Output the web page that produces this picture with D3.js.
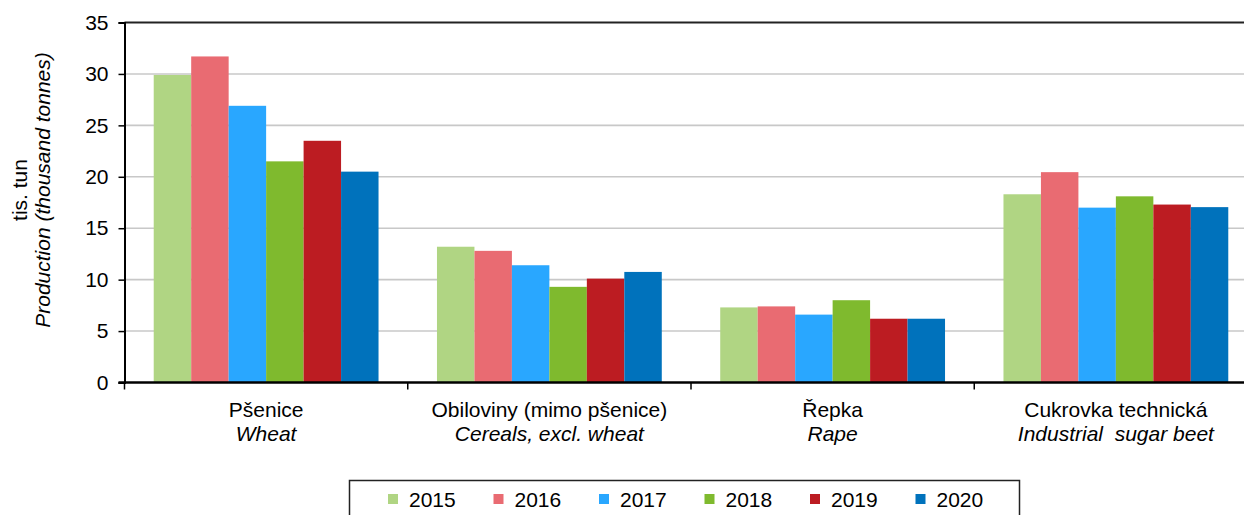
<!DOCTYPE html>
<html lang="cs">
<head>
<meta charset="UTF-8" />
<style>
  body { margin: 0; background: #fff; }
  svg text { font-family: "Liberation Sans", Arial, sans-serif; fill: #000; white-space: pre; }
</style>
</head>
<body>
<svg id="chart" width="1244" height="515"></svg>
<script src="https://d3js.org/d3.v7.min.js"></script>
<script>
// categories (Czech / English)
var categoriesCz = ["Pšenice", "Obiloviny (mimo pšenice)", "Řepka", "Cukrovka technická"]
var categoriesEn = ["Wheat", "Cereals, excl. wheat", "Rape", "Industrial  sugar beet"]
var years = ["2015", "2016", "2017", "2018", "2019", "2020"]
var colors = ["#b0d583", "#e96b72", "#29a7ff", "#7fba2e", "#bc1c22", "#0072bc"]

// thousand tonnes, one array per year, in category order
var v2015 = [29.9, 13.2, 7.3, 18.3]
var v2016 = [31.7, 12.8, 7.4, 20.45]
var v2017 = [26.9, 11.4, 6.6, 17.0]
var v2018 = [21.5, 9.3, 8.0, 18.1]
var v2019 = [23.5, 10.1, 6.2, 17.3]
var v2020 = [20.5, 10.75, 6.2, 17.05]
var series = [v2015, v2016, v2017, v2018, v2019, v2020]

var yTicks = [0, 5, 10, 15, 20, 25, 30, 35]

var svg = d3.select("#chart")
var plotLeft = 124.5, plotTop = 22.5, plotBottom = 382.5, plotRight = 1257.5
var fs = "21px"

var x = d3.scaleBand()
    .domain(d3.range(categoriesCz.length))
    .range([plotLeft, plotRight])
    .padding(0)

var xi = d3.scaleBand()
    .domain(d3.range(years.length))
    .range([0, x.bandwidth()])
    .paddingInner(0)
    .paddingOuter(0.78)

var y = d3.scaleLinear()
    .domain([0, 35])
    .range([plotBottom, plotTop])

// gridlines
svg.append("g")
    .selectAll("line")
    .data(yTicks.filter(d => d > 0 && d < 35))
    .enter().append("line")
    .attr("x1", plotLeft).attr("x2", plotRight)
    .attr("y1", d => y(d)).attr("y2", d => y(d))
    .attr("stroke", "#c8c8c8")
    .attr("stroke-width", 1.6)

// bars
var groups = svg.append("g")
    .selectAll("g")
    .data(series)
    .enter().append("g")
    .attr("fill", (d, i) => colors[i])

groups.each(function (vals, si) {
    d3.select(this).selectAll("rect")
        .data(vals)
        .enter().append("rect")
        .attr("x", (d, ci) => x(ci) + xi(si))
        .attr("y", d => y(d))
        .attr("width", xi.bandwidth())
        .attr("height", d => y(0) - y(d))
})

// top border
svg.append("line")
    .attr("x1", plotLeft).attr("x2", plotRight)
    .attr("y1", plotTop).attr("y2", plotTop)
    .attr("stroke", "#222").attr("stroke-width", 2)

// y axis
var yAxis = svg.append("g")
    .attr("transform", `translate(${plotLeft},0)`)
    .call(d3.axisLeft(y).tickValues(yTicks).tickSize(6).tickPadding(10))
yAxis.select(".domain").attr("stroke", "#000").attr("stroke-width", 2)
yAxis.selectAll(".tick line").attr("stroke", "#000").attr("stroke-width", 1.5)
yAxis.selectAll(".tick text")
    .style("font-size", fs)
    .style("font-family", '"Liberation Sans", Arial, sans-serif')
    .attr("fill", "#000")

// x axis: ticks at category boundaries
svg.append("line")
    .attr("x1", plotLeft - 6).attr("x2", plotRight)
    .attr("y1", plotBottom).attr("y2", plotBottom)
    .attr("stroke", "#000").attr("stroke-width", 2.5)

svg.append("g")
    .selectAll("line")
    .data(d3.range(categoriesCz.length))
    .enter().append("line")
    .attr("x1", d => x(d)).attr("x2", d => x(d))
    .attr("y1", plotBottom).attr("y2", plotBottom + 7)
    .attr("stroke", "#000").attr("stroke-width", 1.5)

var labels = svg.append("g")
    .selectAll("text")
    .data(d3.range(categoriesCz.length))
    .enter().append("text")
    .attr("text-anchor", "middle")
    .style("font-size", fs)
labels.append("tspan")
    .attr("x", d => x(d) + x.bandwidth() / 2)
    .attr("y", 417)
    .text(d => categoriesCz[d])
labels.append("tspan")
    .attr("x", d => x(d) + x.bandwidth() / 2)
    .attr("y", 441)
    .style("font-style", "italic")
    .text(d => categoriesEn[d])

// y title
var yt = svg.append("text")
    .attr("transform", "translate(27,190) rotate(-90)")
    .attr("text-anchor", "middle")
    .style("font-size", fs)
yt.append("tspan").attr("x", 0).attr("y", 0).text("tis. tun")
yt.append("tspan").attr("x", 0).attr("y", 23).style("font-style", "italic").text("Production (thousand tonnes)")

// legend
svg.append("rect")
    .attr("x", 349.5).attr("y", 480.5)
    .attr("width", 670).attr("height", 60)
    .attr("fill", "#fff")
    .attr("stroke", "#222").attr("stroke-width", 1.5)

var leg = svg.append("g")
    .selectAll("g")
    .data(years)
    .enter().append("g")
    .attr("transform", (d, i) => `translate(${388 + i * 105.5},494)`)
leg.append("rect")
    .attr("width", 10).attr("height", 10)
    .attr("fill", (d, i) => colors[i])
leg.append("text")
    .attr("x", 21).attr("y", 13)
    .style("font-size", fs)
    .text(d => d)
</script>
</body>
</html>
